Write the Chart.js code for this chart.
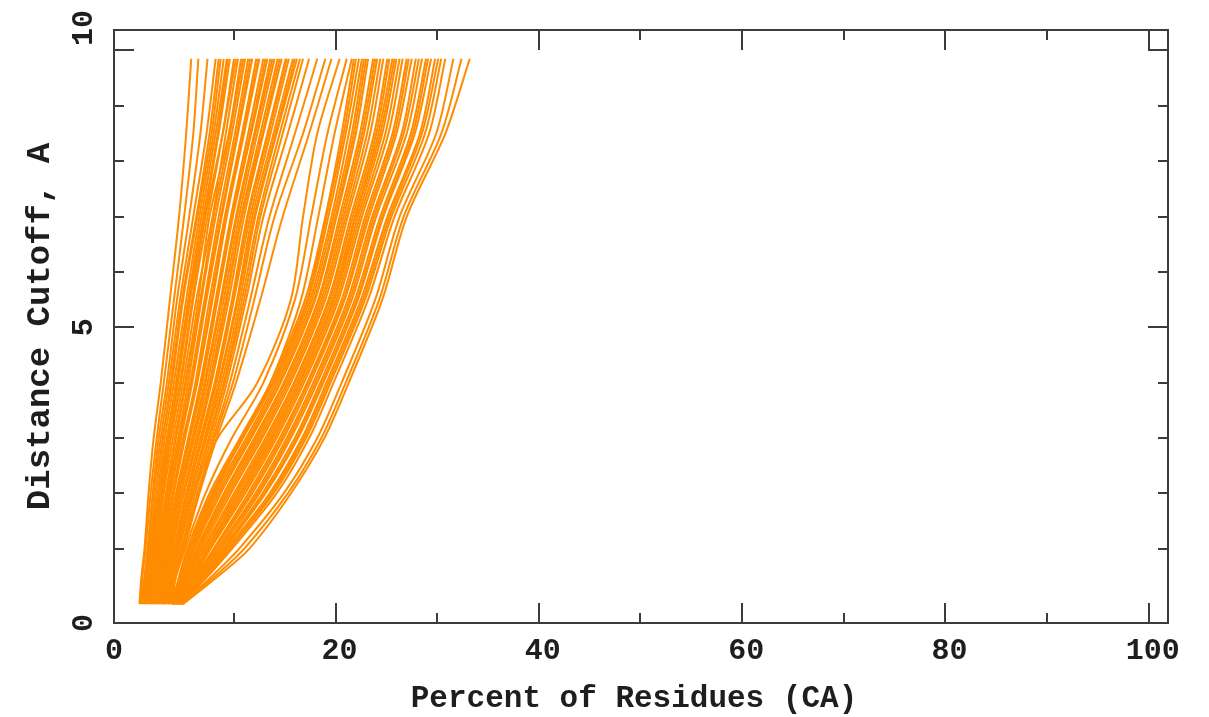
<!DOCTYPE html>
<html>
<head>
<meta charset="utf-8">
<title>Distance Cutoff vs Percent of Residues</title>
<script src="https://cdn.jsdelivr.net/npm/chart.js@4.4.1/dist/chart.umd.min.js"></script>
<style>
  html, body { margin: 0; padding: 0; background: #fff; }
  #wrap { width: 1209px; height: 717px; }
</style>
</head>
<body>
<div id="wrap"><canvas id="grafico"></canvas></div>
<script>
// distance cutoff (A) shared by every curve
const cutoffs = [0, 0.5, 1, 2, 3, 4, 5.5, 7, 8.5, 9.85];

// percent of residues (CA) under each cutoff, one row per model
const steepLeft = [
  [0.7, 0.9, 1.2, 1.6, 2.1, 2.8, 3.7, 4.6, 5.3, 5.8],
  [0.8, 1.0, 1.3, 1.8, 2.4, 3.1, 4.1, 5.1, 6.0, 6.5],
  [0.9, 1.2, 1.5, 2.0, 2.6, 3.4, 4.4, 5.6, 6.7, 7.4]
];
const steepCore = [
  [1.0, 1.3, 1.6, 2.1, 2.8, 3.6, 4.7, 6.0, 7.3, 8.2],
  [1.1, 1.4, 1.7, 2.3, 3.0, 3.8, 4.9, 6.3, 7.6, 8.5],
  [1.2, 1.4, 1.8, 2.3, 3.0, 3.9, 5.0, 6.4, 7.8, 8.7],
  [1.2, 1.5, 1.9, 2.5, 3.2, 4.1, 5.3, 6.6, 8.0, 9.0],
  [1.3, 1.6, 2.0, 2.6, 3.4, 4.3, 5.5, 6.8, 8.2, 9.3],
  [1.3, 1.7, 2.1, 2.7, 3.5, 4.4, 5.6, 7.0, 8.4, 9.4],
  [1.4, 1.7, 2.1, 2.8, 3.6, 4.5, 5.7, 7.1, 8.5, 9.6],
  [1.6, 1.9, 2.3, 3.0, 3.8, 4.8, 6.0, 7.4, 8.9, 10.0],
  [1.5, 1.8, 2.2, 2.9, 3.7, 4.7, 5.9, 7.2, 8.9, 10.2],
  [1.7, 2.0, 2.4, 3.1, 4.0, 5.0, 6.3, 7.9, 9.2, 10.4],
  [1.8, 2.1, 2.5, 3.3, 4.2, 5.2, 6.5, 7.6, 9.5, 10.7],
  [1.8, 2.1, 2.6, 3.4, 4.3, 5.3, 6.7, 8.0, 9.6, 10.9],
  [1.9, 2.2, 2.7, 3.5, 4.5, 5.5, 6.8, 8.2, 9.8, 11.1],
  [2.0, 2.3, 2.8, 3.6, 4.6, 5.7, 7.1, 8.5, 10.1, 11.4],
  [2.0, 2.4, 2.8, 3.7, 4.7, 5.8, 7.2, 8.7, 10.3, 11.6],
  [2.1, 2.4, 2.9, 3.8, 4.8, 5.9, 7.3, 8.8, 10.4, 11.8],
  [2.2, 2.6, 3.0, 4.0, 5.1, 6.2, 7.6, 9.1, 10.8, 12.2],
  [2.3, 2.6, 3.1, 4.0, 5.0, 6.3, 7.8, 9.2, 10.9, 12.4],
  [2.3, 2.7, 3.2, 4.1, 5.2, 6.4, 7.9, 9.3, 11.0, 12.5],
  [2.4, 2.8, 3.3, 4.3, 5.5, 6.7, 8.2, 9.7, 11.4, 12.9],
  [2.4, 2.8, 3.4, 4.4, 5.6, 6.8, 8.3, 9.8, 11.6, 13.1],
  [2.5, 2.9, 3.4, 4.5, 5.7, 6.9, 8.4, 9.9, 11.7, 13.3],
  [2.6, 3.0, 3.6, 4.6, 5.9, 7.1, 8.7, 10.2, 12.0, 13.6],
  [2.7, 3.0, 3.6, 4.7, 6.0, 7.2, 8.8, 10.3, 12.1, 13.8],
  [2.8, 3.1, 3.7, 4.8, 6.1, 7.4, 9.0, 10.5, 12.3, 14.0],
  [2.9, 3.2, 3.8, 5.0, 6.3, 7.6, 9.2, 10.7, 12.6, 14.3],
  [2.9, 3.3, 3.9, 5.0, 6.4, 7.7, 9.3, 10.8, 12.8, 14.5],
  [3.0, 3.3, 3.9, 5.1, 6.5, 7.8, 9.5, 11.0, 12.9, 14.7],
  [3.1, 3.5, 4.1, 5.3, 6.7, 8.1, 9.8, 11.3, 13.3, 15.1],
  [3.1, 3.5, 4.1, 5.4, 6.8, 8.2, 9.9, 11.4, 13.4, 15.2],
  [3.2, 3.6, 4.2, 5.5, 6.9, 8.3, 10.0, 11.6, 13.6, 15.4],
  [3.3, 3.7, 4.3, 5.7, 7.1, 8.5, 10.3, 11.8, 13.9, 15.8],
  [3.3, 3.7, 4.4, 5.7, 7.2, 8.6, 10.4, 12.0, 14.1, 16.0],
  [3.4, 3.8, 4.5, 5.8, 7.3, 8.8, 10.6, 12.1, 14.2, 16.2],
  [3.5, 3.9, 4.6, 6.0, 7.5, 9.0, 10.8, 12.4, 14.5, 16.5],
  [3.5, 3.9, 4.6, 6.0, 7.6, 9.1, 11.0, 12.6, 14.8, 16.8]
];
const steepRight = [
  [3.6, 4.0, 4.8, 6.2, 7.8, 9.3, 11.2, 12.9, 15.3, 17.4],
  [3.7, 4.1, 4.9, 6.4, 8.0, 9.6, 11.6, 13.5, 16.0, 18.2],
  [3.8, 4.2, 5.0, 6.5, 8.1, 9.9, 12.0, 14.0, 16.8, 19.0],
  [3.9, 4.3, 5.1, 6.6, 8.3, 10.2, 12.6, 14.8, 17.4, 19.6]
];
const wideLeft = [
  [3.0, 3.6, 4.4, 5.9, 8.4, 12.3, 15.6, 16.8, 18.2, 20.4],
  [3.6, 4.3, 5.2, 7.2, 9.8, 12.9, 16.0, 17.6, 19.2, 21.1],
  [3.9, 4.7, 5.7, 8.0, 10.8, 13.6, 16.6, 18.3, 19.9, 21.6]
];
const wideCore = [
  [3.9, 4.6, 5.4, 7.6, 10.6, 13.6, 17.0, 19.0, 20.6, 21.8],
  [3.9, 4.7, 5.5, 7.8, 10.8, 13.8, 17.2, 19.1, 20.8, 22.0],
  [4.0, 4.7, 5.6, 7.9, 10.9, 13.9, 17.3, 19.3, 21.0, 22.3],
  [4.0, 4.8, 5.8, 8.1, 11.2, 14.1, 17.5, 19.6, 21.3, 22.6],
  [4.0, 4.9, 5.9, 8.3, 11.4, 14.3, 17.7, 19.8, 21.6, 22.8],
  [4.0, 5.0, 6.0, 8.5, 11.6, 14.5, 17.9, 20.0, 21.8, 23.0],
  [4.0, 5.1, 6.1, 8.7, 11.7, 14.6, 18.0, 20.1, 22.0, 23.2],
  [4.1, 5.2, 6.3, 9.0, 12.0, 14.9, 18.3, 20.4, 22.4, 23.7],
  [4.1, 5.3, 6.4, 9.1, 12.2, 15.0, 18.4, 20.6, 22.6, 23.9],
  [4.1, 5.3, 6.5, 9.3, 12.4, 15.2, 18.6, 20.8, 22.8, 24.1],
  [4.2, 5.4, 6.6, 9.5, 12.6, 15.4, 18.8, 21.0, 23.1, 24.4],
  [4.2, 5.5, 6.8, 9.7, 12.8, 15.6, 19.0, 21.2, 23.4, 24.7],
  [4.2, 5.6, 7.0, 10.0, 13.1, 15.9, 19.3, 21.5, 23.8, 25.1],
  [4.2, 5.6, 7.1, 10.2, 13.3, 16.0, 19.4, 21.7, 24.0, 25.3],
  [4.3, 5.8, 7.3, 10.4, 13.5, 16.2, 19.6, 21.9, 24.2, 25.6],
  [4.3, 5.9, 7.4, 10.6, 13.7, 16.4, 19.8, 22.0, 24.4, 25.8],
  [4.3, 5.9, 7.5, 10.7, 13.8, 16.5, 19.9, 22.2, 24.6, 26.0],
  [4.4, 6.0, 7.6, 10.9, 14.0, 16.7, 20.1, 22.4, 24.9, 26.3],
  [4.4, 6.1, 7.7, 11.1, 14.2, 16.9, 20.3, 22.6, 25.2, 26.6],
  [4.4, 6.2, 8.0, 11.4, 14.5, 17.2, 20.6, 22.9, 25.6, 27.0],
  [4.4, 6.3, 8.1, 11.6, 14.7, 17.3, 20.8, 23.1, 25.8, 27.2],
  [4.5, 6.4, 8.2, 11.8, 14.9, 17.5, 20.9, 23.3, 26.0, 27.5],
  [4.5, 6.5, 8.4, 12.1, 15.2, 17.8, 21.2, 23.6, 26.5, 27.9],
  [4.5, 6.6, 8.5, 12.3, 15.4, 18.0, 21.4, 23.8, 26.7, 28.2],
  [4.6, 6.7, 8.7, 12.5, 15.6, 18.2, 21.6, 24.0, 27.0, 28.5],
  [4.6, 6.8, 8.9, 12.8, 16.0, 18.5, 21.9, 24.4, 27.4, 28.9],
  [4.6, 6.9, 9.0, 13.0, 16.2, 18.7, 22.1, 24.6, 27.6, 29.1],
  [4.7, 7.0, 9.1, 13.1, 16.3, 18.8, 22.2, 24.7, 27.8, 29.4],
  [4.7, 7.1, 9.3, 13.5, 16.7, 19.1, 22.5, 25.1, 28.3, 29.8],
  [4.7, 7.2, 9.5, 13.7, 16.9, 19.3, 22.7, 25.3, 28.5, 30.1],
  [4.8, 7.3, 9.6, 13.9, 17.1, 19.5, 22.9, 25.5, 28.8, 30.4],
  [4.8, 7.4, 9.8, 14.2, 17.4, 19.8, 23.2, 25.8, 29.2, 30.8]
];
const wideRight = [
  [4.9, 7.8, 10.5, 14.9, 18.2, 20.6, 23.9, 26.3, 29.9, 31.6],
  [4.9, 8.1, 11.0, 15.3, 18.6, 21.0, 24.3, 26.7, 30.4, 32.4],
  [5.0, 8.4, 11.5, 15.6, 18.9, 21.3, 24.6, 27.0, 30.8, 33.2]
];

// axis ticks and labels
const xTicks = [10, 20, 30, 40, 50, 60, 70, 80, 90, 100];
const xTickLabels = [0, 20, 40, 60, 80, 100];
const yTicks = [1, 2, 3, 4, 5, 6, 7, 8, 9, 10];
const yTickLabels = [0, 5, 10];

const curvas = [].concat(steepLeft, steepCore, steepRight, wideLeft, wideCore, wideRight);

const familia = '"Liberation Mono", "DejaVu Sans Mono", monospace';

// frame with inward ticks on all four sides, labels and titles
const marco = {
  id: 'marco',
  afterDraw(chart) {
    const ctx = chart.ctx;
    const a = chart.chartArea;
    const sx = chart.scales.x;
    const sy = chart.scales.y;
    ctx.save();
    ctx.strokeStyle = '#3c3c3c';
    ctx.lineWidth = 2;
    ctx.strokeRect(a.left, a.top, a.right - a.left, a.bottom - a.top);

    ctx.beginPath();
    xTicks.forEach(v => {
      const px = Math.round(sx.getPixelForValue(v));
      const len = v % 20 === 0 ? 20 : 10;
      ctx.moveTo(px, a.bottom); ctx.lineTo(px, a.bottom - len);
      ctx.moveTo(px, a.top); ctx.lineTo(px, a.top + len);
    });
    yTicks.forEach(v => {
      const py = Math.round(sy.getPixelForValue(v));
      const len = v % 5 === 0 ? 20 : 10;
      ctx.moveTo(a.left, py); ctx.lineTo(a.left + len, py);
      ctx.moveTo(a.right, py); ctx.lineTo(a.right - len, py);
    });
    ctx.stroke();

    ctx.fillStyle = '#1e1e1e';
    ctx.font = 'bold 30px ' + familia;
    ctx.textAlign = 'center';
    ctx.textBaseline = 'middle';
    xTickLabels.forEach(v => {
      const px = v === 0 ? a.left : sx.getPixelForValue(v) + 4;
      ctx.fillText(String(v), px, 651);
    });
    yTickLabels.forEach(v => {
      let py = sy.getPixelForValue(v);
      if (v === 0) py = a.bottom;
      if (v === 10) py = a.top - 2;
      ctx.save();
      ctx.translate(84, py);
      ctx.rotate(-Math.PI / 2);
      ctx.fillText(String(v), 0, 0);
      ctx.restore();
    });

    ctx.font = 'bold 31px ' + familia;
    ctx.fillText('Percent of Residues (CA)', 634, 699);
    ctx.font = 'bold 34px ' + familia;
    ctx.save();
    ctx.translate(40, (a.top + a.bottom) / 2);
    ctx.rotate(-Math.PI / 2);
    ctx.fillText('Distance Cutoff, A', 0, 0);
    ctx.restore();
    ctx.restore();
  }
};

const ctx = document.getElementById('grafico').getContext('2d');
const grafico = new Chart(ctx, {
  type: 'line',
  data: {
    datasets: curvas.map(fila => ({
      data: fila.map((x, i) => ({ x: x, y: cutoffs[i] })),
      borderColor: '#ff8c00',
      borderWidth: 2,
      pointRadius: 0,
      tension: 0.3,
      fill: false
    }))
  },
  options: {
    responsive: true,
    maintainAspectRatio: false,
    animation: false,
    layout: { padding: { left: 114, right: 41, top: 30, bottom: 94 } },
    scales: {
      x: { type: 'linear', min: -1.8, max: 101.9, display: false },
      y: { type: 'linear', min: -0.34, max: 10.37, display: false }
    },
    plugins: {
      legend: { display: false },
      tooltip: { enabled: false }
    }
  },
  plugins: [marco]
});
</script>
</body>
</html>
